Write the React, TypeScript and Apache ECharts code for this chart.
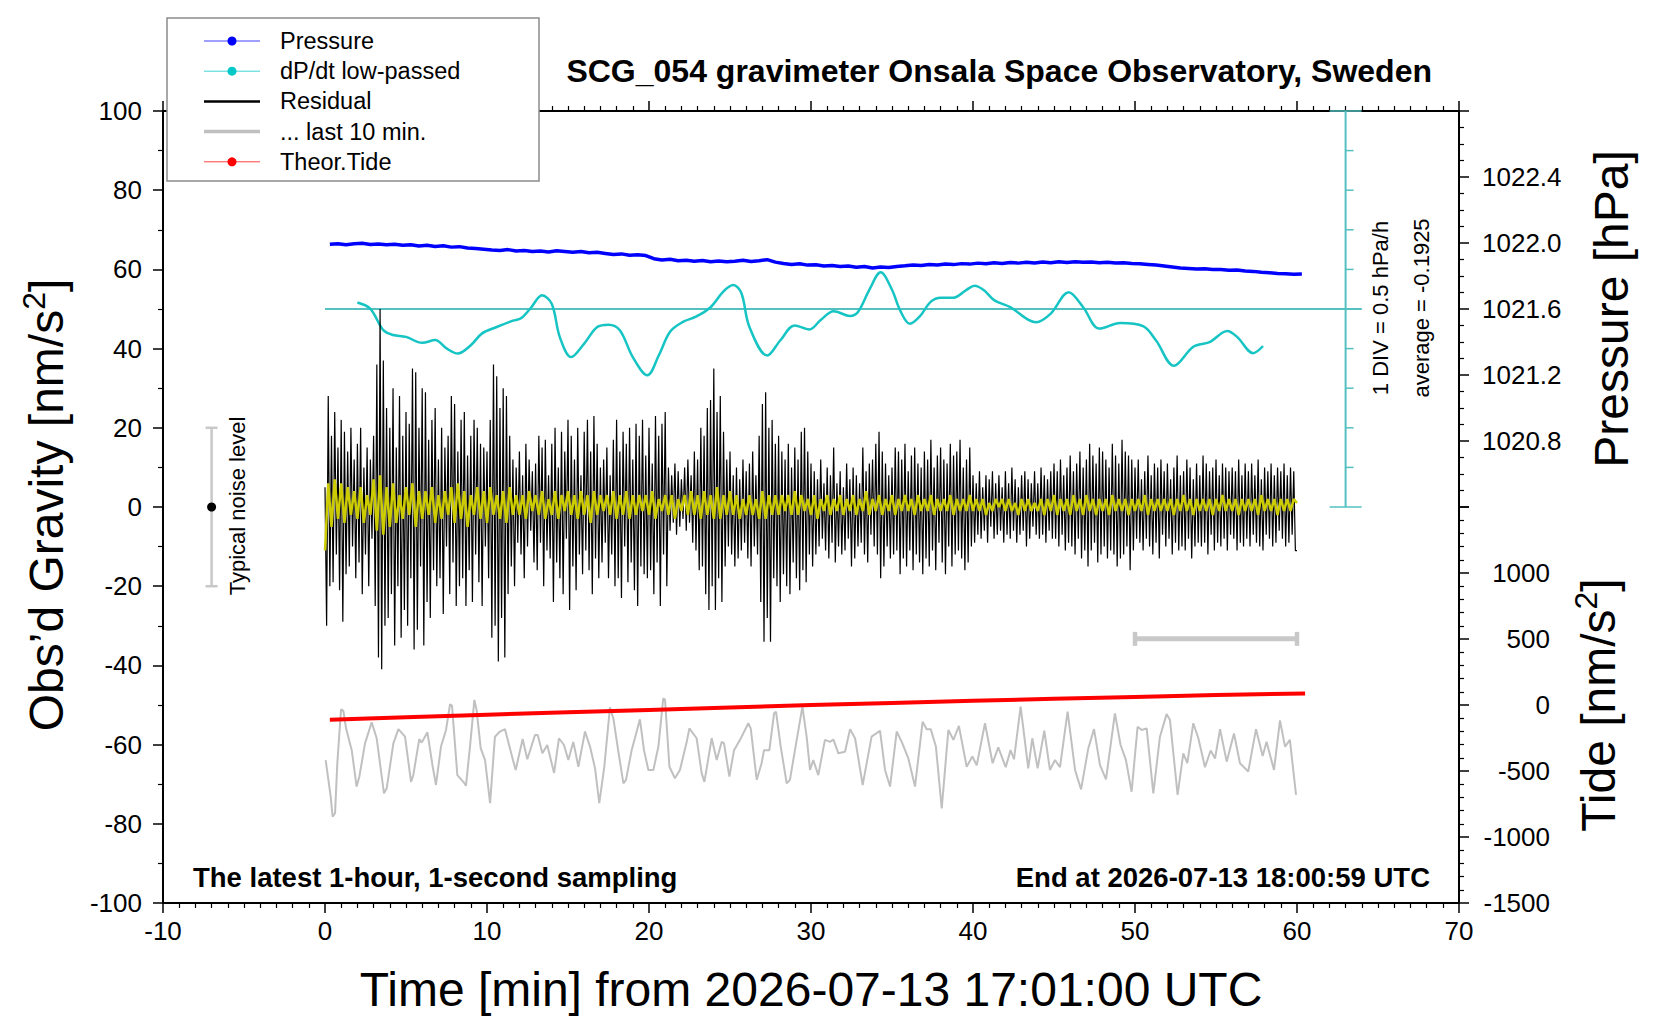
import React, { useEffect, useRef } from 'react';
import * as echarts from 'echarts';

const FONT = '"Liberation Sans", Arial, Helvetica, sans-serif';

// residual gravity [nm/s^2], one value every 0.1 min from t = 0
const RESIDUAL_STEP = 0.1;
const RESIDUAL = [
  5, -30, 28, -20, 18, -19, 24, -12, 15, -21,
  22, -29, 19, -17, 14, -15, 20, -10, 12, -18,
  16, -14, 20, -22, 10, -12, 15, -20, 12, -8,
  18, -25, 36, -38, 50, -41, 37, -30, 25, -28,
  20, -22, 30, -35, 15, -20, 28, -33, 18, -26,
  24, -30, 21, -18, 35, -36, 34, -31, 20, -15,
  30, -35, 29, -24, 17, -28, 22, -16, 25, -20,
  12, -18, 20, -27, 15, -10, 18, -22, 28, -14,
  26, -25, 14, -20, 22, -18, 24, -25, 13, -16,
  18, -24, 22, -12, 20, -19, 16, -25, 15, -10,
  14, -18, 22, -33, 36, -30, 33, -39, 25, -28,
  30, -38, 28, -22, 18, -15, 12, -20, 10, -9,
  14, -12, 8, -18, 16, -10, 12, -6, 9, -14,
  11, -16, 18, -9, 15, -20, 17, -11, 8, -13,
  16, -24, 20, -14, 10, -18, 19, -22, 14, -8,
  22, -26, 18, -15, 12, -21, 20, -12, 8, -17,
  19, -11, 22, -16, 14, -22, 23, -13, 16, -18,
  10, -14, 12, -9, 15, -18, 8, -12, 17, -20,
  22, -18, 14, -23, 19, -10, 16, -19, 20, -14,
  12, -21, 21, -25, 18, -15, 22, -17, 13, -18,
  20, -16, 11, -22, 23, -14, 18, -25, 21, -12,
  24, -20, 10, -6, 8, -4, 11, -7, 9, -5,
  7, -3, 10, -6, 12, -4, 8, -9, 14, -11,
  12, -16, 20, -15, 18, -22, 25, -26, 27, -20,
  35, -26, 24, -18, 28, -24, 19, -15, 12, -10,
  14, -12, 8, -15, 10, -13, 7, -11, 12, -9,
  9, -13, 11, -15, 14, -10, 8, -12, 18, -24,
  26, -34, 29, -28, 20, -34, 22, -18, 16, -20,
  18, -24, 14, -17, 12, -20, 16, -22, 10, -14,
  15, -18, 12, -21, 19, -16, 20, -19, 14, -12,
  11, -15, 9, -12, 7, -10, 12, -8, 6, -11,
  10, -13, 8, -9, 15, -14, 6, -10, 9, -12,
  5, -11, 11, -8, 7, -15, 10, -13, 8, -10,
  6, -9, 15, -12, 9, -14, 11, -7, 12, -10,
  16, -12, 19, -18, 14, -15, 11, -10, 8, -13,
  10, -12, 15, -11, 14, -17, 12, -13, 16, -15,
  9, -11, 13, -16, 15, -12, 11, -14, 10, -17,
  14, -13, 12, -15, 17, -11, 10, -16, 13, -9,
  15, -14, 12, -17, 11, -10, 16, -15, 13, -12,
  14, -11, 17, -13, 10, -16, 12, -14, 15, -10,
  8, -9, 6, -7, 9, -8, 5, -6, 8, -9,
  7, -5, 9, -8, 6, -7, 8, -6, 5, -9,
  9, -7, 6, -8, 10, -6, 7, -9, 5, -7,
  8, -6, 9, -10, 7, -8, 6, -5, 9, -7,
  6, -8, 10, -7, 8, -9, 7, -6, 9, -8,
  11, -8, 9, -10, 12, -7, 8, -11, 10, -9,
  13, -10, 9, -12, 11, -8, 14, -13, 10, -11,
  12, -15, 16, -11, 13, -9, 11, -14, 15, -12,
  14, -10, 12, -13, 10, -11, 16, -12, 13, -15,
  11, -13, 17, -12, 14, -10, 13, -16, 12, -11,
  10, -8, 12, -9, 7, -11, 9, -8, 13, -10,
  8, -12, 11, -9, 10, -13, 12, -7, 9, -10,
  11, -8, 7, -12, 10, -9, 13, -11, 8, -10,
  9, -11, 12, -8, 10, -13, 7, -10, 11, -9,
  8, -10, 13, -9, 11, -12, 9, -7, 10, -11,
  12, -9, 8, -10, 11, -8, 10, -11, 9, -7,
  10, -8, 9, -11, 12, -9, 8, -10, 11, -8,
  9, -10, 11, -7, 8, -9, 12, -10, 7, -11,
  10, -7, 9, -8, 11, -10, 8, -9, 10, -6,
  9, -8, 11, -10, 8, -9, 10, -7, 9, -11,
  -11,
];

// low-passed residual (yellow), one value every 0.2 min
const SMOOTH_STEP = 0.2;
const RESIDUAL_SMOOTH = [
  -11, 6, -5, 7, -3, 6, -4, 5, -2, 4,
  -3, 5, -4, 3, -2, 7, -6, 8, -7, 5,
  -5, 6, -4, 3, -3, 5, -2, 6, -5, 4,
  -3, 4, -2, 5, -4, 3, -3, 4, -2, 5,
  -4, 6, -3, 4, -5, 3, -2, 5, -3, 4,
  -4, 5, -2, 3, -3, 4, -4, 5, -2, 3,
  -2, 3, -3, 4, -1, 3, -2, 4, -3, 2,
  -2, 4, -3, 3, -1, 4, -2, 3, -3, 4,
  -2, 3, -4, 4, -2, 3, -1, 3, -2, 4,
  -3, 3, -2, 4, -3, 3, -2, 3, -1, 3,
  -2, 4, -3, 2, -1, 3, -2, 3, -3, 2,
  -1, 3, -2, 4, -2, 3, -3, 4, -2, 3,
  -3, 5, -3, 3, -2, 4, -2, 3, -3, 2,
  -2, 3, -2, 2, -3, 4, -3, 3, -2, 3,
  -2, 3, -1, 3, -2, 4, -2, 3, -1, 2,
  -2, 3, -3, 2, -1, 3, -2, 2, -1, 3,
  -2, 2, -1, 3, -2, 2, -1, 4, -2, 2,
  -1, 3, -2, 2, -1, 3, -2, 2, -1, 3,
  -1, 2, -2, 3, -1, 2, -1, 3, -2, 2,
  -1, 2, -1, 3, -2, 2, -1, 2, -1, 3,
  -1, 2, -1, 2, -2, 1, -1, 2, 0, 2,
  -1, 2, -1, 1, -2, 2, -1, 2, -1, 1,
  -1, 2, -2, 2, -1, 3, -2, 2, -1, 2,
  -2, 3, -1, 2, -2, 3, -1, 2, -2, 2,
  -1, 2, -2, 3, -1, 2, -1, 2, -2, 2,
  -1, 2, -1, 3, -2, 2, -1, 2, -1, 2,
  -1, 2, -2, 2, -1, 3, -1, 2, -2, 2,
  -1, 2, -1, 2, -2, 2, -1, 3, -1, 2,
  -1, 2, -2, 2, -1, 2, -1, 2, -2, 3,
  -1, 2, -1, 2, -2, 2, -1, 2, -1, 2,
  1,
];

// air pressure [hPa], every 0.5 min from t = 0.3
const PRESSURE_START = 0.3;
const PRESSURE_STEP = 0.5;
const PRESSURE = [
  1021.992, 1021.996, 1021.990, 1021.995, 1021.998, 1021.991, 1021.994, 1021.989, 1021.993, 1021.987,
  1021.990, 1021.982, 1021.986, 1021.979, 1021.983, 1021.975, 1021.978, 1021.970, 1021.966, 1021.962,
  1021.958, 1021.955, 1021.960, 1021.951, 1021.954, 1021.948, 1021.952, 1021.946, 1021.953, 1021.949,
  1021.944, 1021.948, 1021.941, 1021.944, 1021.937, 1021.930, 1021.934, 1021.926, 1021.929, 1021.924,
  1021.905, 1021.897, 1021.901, 1021.893, 1021.896, 1021.889, 1021.894, 1021.887, 1021.891, 1021.886,
  1021.890, 1021.895, 1021.888, 1021.893, 1021.899, 1021.884, 1021.876, 1021.870, 1021.874, 1021.866,
  1021.868, 1021.861, 1021.864, 1021.857, 1021.860, 1021.853, 1021.857, 1021.849, 1021.855, 1021.851,
  1021.858, 1021.862, 1021.867, 1021.864, 1021.870, 1021.867, 1021.873, 1021.869, 1021.875, 1021.872,
  1021.878, 1021.874, 1021.880, 1021.876, 1021.882, 1021.878, 1021.884, 1021.879, 1021.885, 1021.881,
  1021.886, 1021.882, 1021.887, 1021.883, 1021.885, 1021.880, 1021.884, 1021.879, 1021.881, 1021.876,
  1021.874, 1021.870, 1021.866, 1021.861, 1021.855, 1021.849, 1021.846, 1021.842, 1021.844, 1021.839,
  1021.840, 1021.835, 1021.836, 1021.830, 1021.828, 1021.823, 1021.820, 1021.815, 1021.814, 1021.810,
  1021.812,
];

// low-passed pressure rate [hPa/h]
const DPDT_TIME = [
  2.0, 2.8, 3.6, 4.2, 5.0, 6.0, 6.8, 7.5, 8.2, 9.0, 9.7, 10.6, 11.6, 12.1, 12.7, 13.4, 14.0, 14.5,
  15.2, 16.0, 16.8, 17.5, 18.2, 19.0, 19.9, 20.6, 21.3, 22.1, 22.9, 23.8, 24.6, 25.2, 25.7, 26.2,
  27.3, 28.1, 29.0, 29.9, 30.6, 31.4, 32.4, 32.9, 33.6, 34.3, 35.0, 35.5, 36.1, 36.7, 37.4, 38.0,
  38.8, 39.6, 40.1, 40.7, 41.3, 42.3, 43.9, 44.8, 45.9, 46.8, 47.8, 49.1, 50.5, 51.3, 52.4, 53.6,
  54.6, 55.7, 56.3, 57.3, 57.9,
];
const DPDT = [
  -0.11, -0.19, -0.46, -0.52, -0.545, -0.62, -0.585, -0.69, -0.755, -0.65, -0.50, -0.42, -0.34, -0.31, -0.18, -0.02, -0.13, -0.55,
  -0.80, -0.63, -0.42, -0.39, -0.46, -0.80, -1.03, -0.78, -0.48, -0.355, -0.29, -0.17, 0.03, 0.11, 0.01, -0.42,
  -0.78, -0.59, -0.40, -0.45, -0.33, -0.22, -0.28, -0.23, 0.05, 0.27, 0.05, -0.21, -0.38, -0.29, -0.10, -0.05,
  -0.05, 0.05, 0.10, 0.04, -0.08, -0.17, -0.36, -0.25, 0.02, -0.17, -0.44, -0.37, -0.41, -0.59, -0.91, -0.67,
  -0.61, -0.47, -0.545, -0.75, -0.66,
];
const DPDT_AVERAGE = -0.1925;
const DPDT_AVERAGE_SPAN = [0, 64];
const DPDT_SCALE_X = 63;
// 1 DIV = 0.5 hPa/h around the average
const DPDT_TICKS = [-2.6925, -2.1925, -1.6925, -1.1925, -0.6925, -0.1925, 0.3075, 0.8075, 1.3075, 1.8075, 2.3075];
const DPDT_AXIS_MIN = -7.6925;
const DPDT_AXIS_MAX = 2.3075;

// last 10 minutes of residual, stretched over the hour (offset)
const LAST10_TIME = [
  0.04, 0.35, 0.47, 0.62, 0.76, 0.99, 1.13, 1.30, 1.65, 1.95, 2.12, 2.47, 2.88, 3.19, 3.64, 3.81,
  4.22, 4.53, 4.94, 5.31, 5.45, 5.82, 5.97, 6.32, 6.65, 6.85, 7.16, 7.47, 7.72, 7.84, 8.17, 8.54,
  8.70, 8.95, 9.22, 9.36, 9.61, 9.88, 10.19, 10.49, 10.80, 11.11, 11.63, 11.77, 12.20, 12.49, 12.96,
  13.13, 13.42, 13.72, 14.14, 14.44, 14.75, 15.02, 15.33, 15.64, 16.05, 16.36, 16.67, 16.93, 17.24,
  17.59, 17.80, 18.11, 18.42, 18.58, 18.93, 19.44, 19.69, 19.96, 20.27, 20.58, 20.88, 20.99, 21.26,
  21.60, 21.91, 22.33, 22.49, 22.94, 23.25, 23.42, 23.87, 24.18, 24.49, 24.63, 24.96, 25.25, 25.62,
  26.13, 26.28, 26.65, 26.95, 27.10, 27.43, 27.72, 27.84, 28.13, 28.50, 28.70, 29.01, 29.47,
  29.73, 29.94, 30.14, 30.45, 30.86, 31.17, 31.38, 31.69, 32.10, 32.41, 32.72, 33.19, 33.74, 34.26,
  34.57, 34.88, 35.29, 35.60, 36.01, 36.42, 36.89, 37.14, 37.39, 37.71, 38.07, 38.48, 38.79, 39.13,
  39.61, 39.96, 40.23, 40.74, 41.21, 41.56, 42.02, 42.32, 42.53, 42.94, 43.41, 43.66, 43.99, 44.40,
  44.75, 45.06, 45.37, 45.84, 46.30, 46.67, 47.12, 47.47, 47.84, 48.21, 48.76, 49.11, 49.44, 49.79,
  50.16, 50.41, 50.72, 51.13, 51.54, 51.95, 52.16, 52.63, 52.98, 53.23, 53.60, 53.91, 54.32, 54.67,
  54.94, 55.25, 55.66, 56.11, 56.48, 56.99, 57.47, 57.88, 58.12, 58.58, 58.95, 59.26, 59.56, 59.94,
];
const LAST10 = [
  -63.9, -73.1, -78.2, -77.3, -64.7, -51.1, -51.4, -55.9, -61.4, -70.6, -68.1, -59.7, -54.4, -58.4, -72.3, -71.0,
  -59.7, -56.1, -58.0, -69.4, -67.7, -58.6, -59.5, -56.9, -65.6, -70.2, -60.5, -56.3, -49.8, -50.2, -67.7, -69.4,
  -70.4, -60.5, -48.7, -51.3, -60.9, -63.9, -74.8, -58.0, -56.7, -56.1, -64.3, -66.4, -58.6, -63.7, -57.6,
  -57.6, -62.2, -60.1, -67.2, -58.4, -60.1, -63.9, -59.3, -65.6, -56.7, -60.5, -66.0, -74.8, -65.6,
  -50.6, -53.4, -61.8, -69.8, -68.9, -61.4, -53.6, -61.4, -66.4, -66.4, -60.5, -48.3, -48.7, -65.6,
  -68.5, -66.4, -59.3, -55.9, -58.4, -67.2, -69.4, -58.4, -63.9, -59.3, -59.7, -68.1, -61.4, -58.8,
  -54.6, -55.9, -68.9, -64.7, -61.4, -61.4, -52.1, -51.7, -60.5, -69.8, -68.9, -61.4, -50.4,
  -58.0, -66.4, -63.9, -67.7, -58.8, -59.3, -58.7, -62.2, -61.8, -56.1, -58.4, -70.2, -58.0, -56.5,
  -66.4, -70.6, -56.7, -59.3, -63.5, -70.6, -54.2, -56.1, -56.1, -60.5, -76.1, -56.3, -58.8, -55.3,
  -65.6, -63.0, -65.2, -54.6, -64.7, -60.7, -65.7, -61.4, -63.7, -50.4, -66.0, -58.4, -66.0, -56.5,
  -66.4, -63.9, -65.7, -51.7, -66.4, -71.3, -60.9, -56.1, -65.2, -68.8, -52.1, -60.1, -63.9, -71.9,
  -55.5, -56.3, -55.9, -72.3, -58.0, -52.3, -53.8, -72.7, -62.2, -64.7, -54.6, -58.4, -65.7, -61.5,
  -63.5, -56.1, -64.3, -57.2, -64.7, -66.8, -56.1, -62.9, -59.3, -66.4, -53.9, -60.5, -58.8, -72.7,
];
const LAST10_SPAN = [[50, 60, -33.3]];

// theoretical tide [nm/s^2]
const TIDE_TIME = [0.3, 5, 10, 15, 20, 25, 30, 35, 40, 45, 50, 55, 60.5];
const TIDE = [-111, -92, -73, -55, -37, -18, 0, 16, 32, 47, 61, 75, 88];

// typical noise level: [time, low, high, centre]
const NOISE = [[-7, -20, 20, 0]];

const LEGEND_ITEMS = [
  { name: 'Pressure', color: '#0000ff', width: 1, dot: true },
  { name: 'dP/dt low-passed', color: '#00c8c8', width: 1, dot: true },
  { name: 'Residual', color: '#000000', width: 2.5, dot: false },
  { name: '... last 10 min.', color: '#c0c0c0', width: 3.5, dot: false },
  { name: 'Theor.Tide', color: '#ff0000', width: 1, dot: true },
];

const TEAL = '#55c0c0';
const LIGHT_GREY = '#c8c8c8';

const axisLineStyle = { onZero: false, lineStyle: { color: '#000', width: 2 } };
const tickStyle = { length: 10, lineStyle: { color: '#000', width: 1.5 } };
const minorStyle = (n: number) => ({ show: true, splitNumber: n, length: 5, lineStyle: { color: '#000', width: 1.2 } });
const labelStyle = { color: '#000', fontSize: 26, fontFamily: FONT };

const App: React.FC = () => {
  const chartRef = useRef<HTMLDivElement>(null);

  useEffect(() => {
    if (!chartRef.current) return;
    const chart = echarts.init(chartRef.current, undefined, { renderer: 'svg' });

    const residualData = RESIDUAL.map((v, i) => [i * RESIDUAL_STEP, v]);
    const smoothData = RESIDUAL_SMOOTH.map((v, i) => [i * SMOOTH_STEP, v]);
    const pressureData = PRESSURE.map((v, i) => [PRESSURE_START + i * PRESSURE_STEP, v]);
    const dpdtData = DPDT.map((v, i) => [DPDT_TIME[i], v]);
    const last10Data = LAST10.map((v, i) => [LAST10_TIME[i], v]);
    const tideData = TIDE.map((v, i) => [TIDE_TIME[i], v]);

    // legend box drawn by hand
    const legendRows = LEGEND_ITEMS.flatMap((item, i) => {
      const y = 41 + i * 30.2;
      const els: any[] = [
        { type: 'line', z: 101, shape: { x1: 204, y1: y, x2: 260, y2: y }, style: { stroke: item.color, lineWidth: item.width, opacity: item.dot ? 0.75 : 1 } },
        { type: 'text', z: 101, x: 280, y, style: { text: item.name, fontSize: 23.5, fontFamily: FONT, fill: '#000', align: 'left', verticalAlign: 'middle' } },
      ];
      if (item.dot) els.push({ type: 'circle', z: 102, shape: { cx: 232, cy: y, r: 4.5 }, style: { fill: item.color } });
      return els;
    });

    const option: any = {
      animation: false,
      backgroundColor: '#fff',
      grid: [
        { left: 163, top: 111, width: 1296, height: 792 },
        { left: 163, top: 111, width: 1296, height: 396 },
        { left: 163, top: 507, width: 1296, height: 396 },
      ],
      xAxis: [
        {
          gridIndex: 0, type: 'value', min: -10, max: 70, interval: 10, position: 'bottom',
          axisLine: axisLineStyle, axisTick: tickStyle, minorTick: minorStyle(10), splitLine: { show: false },
          axisLabel: { ...labelStyle, margin: 15 },
        },
        {
          gridIndex: 0, type: 'value', min: -10, max: 70, interval: 10, position: 'top',
          axisLine: axisLineStyle, axisTick: tickStyle, minorTick: minorStyle(10), splitLine: { show: false },
          axisLabel: { show: false },
        },
        { gridIndex: 1, type: 'value', min: -10, max: 70, show: false },
        { gridIndex: 2, type: 'value', min: -10, max: 70, show: false },
      ],
      yAxis: [
        {
          gridIndex: 0, type: 'value', min: -100, max: 100, interval: 20, position: 'left',
          axisLine: axisLineStyle, axisTick: tickStyle, minorTick: minorStyle(2), splitLine: { show: false },
          axisLabel: { ...labelStyle, margin: 21 },
        },
        { gridIndex: 0, type: 'value', min: DPDT_AXIS_MIN, max: DPDT_AXIS_MAX, show: false },
        {
          gridIndex: 1, type: 'value', min: 1020.4, max: 1022.8, interval: 0.4, position: 'right',
          axisLine: axisLineStyle, axisTick: tickStyle, minorTick: minorStyle(4), splitLine: { show: false },
          axisLabel: { ...labelStyle, margin: 23, showMinLabel: false, showMaxLabel: false, formatter: (v: number) => v.toFixed(1) },
        },
        {
          gridIndex: 2, type: 'value', min: -1500, max: 1500, interval: 500, position: 'right',
          axisLine: axisLineStyle, axisTick: tickStyle, minorTick: minorStyle(5), splitLine: { show: false },
          axisLabel: { ...labelStyle, align: 'right', margin: 91, showMaxLabel: false, formatter: (v: number) => String(v) },
        },
      ],
      series: [
        {
          name: 'dP/dt average', type: 'line', xAxisIndex: 0, yAxisIndex: 1, silent: true, symbol: 'none',
          data: DPDT_AVERAGE_SPAN.map((t) => [t, DPDT_AVERAGE]),
          lineStyle: { color: TEAL, width: 2 },
        },
        {
          name: 'dP/dt scale', type: 'line', xAxisIndex: 0, yAxisIndex: 1, silent: true, symbol: 'none',
          data: [[DPDT_SCALE_X, DPDT_TICKS[0]], [DPDT_SCALE_X, DPDT_TICKS[DPDT_TICKS.length - 1]]],
          lineStyle: { color: TEAL, width: 2 },
        },
        {
          name: 'dP/dt ticks', type: 'custom', xAxisIndex: 0, yAxisIndex: 1, silent: true,
          data: DPDT_TICKS.map((v) => [DPDT_SCALE_X, v]),
          encode: { x: 0, y: 1 },
          renderItem: (params: any, api: any) => {
            const p = api.coord([api.value(0), api.value(1)]);
            const end = params.dataIndex === 0 || params.dataIndex === DPDT_TICKS.length - 1;
            return {
              type: 'line',
              shape: { x1: end ? p[0] - 16 : p[0], y1: p[1], x2: end ? p[0] + 16 : p[0] + 8, y2: p[1] },
              style: { stroke: TEAL, lineWidth: 1.5 },
            };
          },
        },
        {
          name: 'dP/dt low-passed', type: 'line', xAxisIndex: 0, yAxisIndex: 1, symbol: 'none', smooth: 0.35,
          data: dpdtData, lineStyle: { color: '#17c4c4', width: 2.5 },
        },
        {
          name: 'Residual', type: 'line', xAxisIndex: 0, yAxisIndex: 0, symbol: 'none',
          data: residualData, lineStyle: { color: '#000', width: 1.2 },
        },
        {
          name: 'Residual low-passed', type: 'line', xAxisIndex: 0, yAxisIndex: 0, symbol: 'none',
          data: smoothData, lineStyle: { color: '#cccc00', width: 2.5 },
        },
        {
          name: '... last 10 min.', type: 'line', xAxisIndex: 0, yAxisIndex: 0, symbol: 'none',
          data: last10Data, lineStyle: { color: '#c0c0c0', width: 2 },
        },
        {
          name: 'Typical noise level', type: 'custom', xAxisIndex: 0, yAxisIndex: 0, silent: true,
          data: NOISE, encode: { x: 0, y: [1, 2] },
          renderItem: (_p: any, api: any) => {
            const x = api.value(0);
            const lo = api.coord([x, api.value(1)]);
            const hi = api.coord([x, api.value(2)]);
            const mid = api.coord([x, api.value(3)]);
            const s = { stroke: LIGHT_GREY, lineWidth: 2.5 };
            return {
              type: 'group',
              children: [
                { type: 'line', shape: { x1: lo[0], y1: lo[1], x2: hi[0], y2: hi[1] }, style: s },
                { type: 'line', shape: { x1: lo[0] - 6, y1: lo[1], x2: lo[0] + 6, y2: lo[1] }, style: s },
                { type: 'line', shape: { x1: hi[0] - 6, y1: hi[1], x2: hi[0] + 6, y2: hi[1] }, style: s },
                { type: 'circle', shape: { cx: mid[0], cy: mid[1], r: 4.5 }, style: { fill: '#000' } },
              ],
            };
          },
        },
        {
          name: 'last 10 min span', type: 'custom', xAxisIndex: 0, yAxisIndex: 0, silent: true,
          data: LAST10_SPAN, encode: { x: [0, 1], y: 2 },
          renderItem: (_p: any, api: any) => {
            const a = api.coord([api.value(0), api.value(2)]);
            const b = api.coord([api.value(1), api.value(2)]);
            return {
              type: 'group',
              children: [
                { type: 'line', shape: { x1: a[0], y1: a[1], x2: b[0], y2: b[1] }, style: { stroke: LIGHT_GREY, lineWidth: 5 } },
                { type: 'line', shape: { x1: a[0], y1: a[1] - 7, x2: a[0], y2: a[1] + 7 }, style: { stroke: LIGHT_GREY, lineWidth: 4.5 } },
                { type: 'line', shape: { x1: b[0], y1: b[1] - 7, x2: b[0], y2: b[1] + 7 }, style: { stroke: LIGHT_GREY, lineWidth: 4.5 } },
              ],
            };
          },
        },
        {
          name: 'Pressure', type: 'line', xAxisIndex: 2, yAxisIndex: 2, symbol: 'none',
          data: pressureData, lineStyle: { color: '#0000ff', width: 3.5 },
        },
        {
          name: 'Theor.Tide', type: 'line', xAxisIndex: 3, yAxisIndex: 3, symbol: 'none',
          data: tideData, lineStyle: { color: '#ff0000', width: 4 },
        },
      ],
      graphic: [
        {
          type: 'text', x: 1432, y: 71,
          style: { text: 'SCG_054 gravimeter Onsala Space Observatory, Sweden', fontSize: 32, fontWeight: 'bold', fontFamily: FONT, fill: '#000', align: 'right', verticalAlign: 'middle' },
        },
        {
          type: 'text', x: 193, y: 877,
          style: { text: 'The latest 1-hour, 1-second sampling', fontSize: 27.5, fontWeight: 'bold', fontFamily: FONT, fill: '#000', align: 'left', verticalAlign: 'middle' },
        },
        {
          type: 'text', x: 1430, y: 877,
          style: { text: 'End at 2026-07-13 18:00:59 UTC', fontSize: 27.5, fontWeight: 'bold', fontFamily: FONT, fill: '#000', align: 'right', verticalAlign: 'middle' },
        },
        {
          type: 'text', x: 811, y: 989,
          style: { text: 'Time [min] from 2026-07-13 17:01:00 UTC', fontSize: 48, fontFamily: FONT, fill: '#000', align: 'center', verticalAlign: 'middle' },
        },
        {
          type: 'text', x: 46, y: 505, rotation: Math.PI / 2,
          style: {
            text: '{a|Obs’d Gravity [nm/s}{b|2}{a|]}', fontFamily: FONT, fill: '#000', align: 'center', verticalAlign: 'middle',
            rich: { a: { fontSize: 48, lineHeight: 56, fontFamily: FONT }, b: { fontSize: 32, lineHeight: 32, verticalAlign: 'top', fontFamily: FONT } },
          },
        },
        {
          type: 'text', x: 1611, y: 309, rotation: Math.PI / 2,
          style: { text: 'Pressure [hPa]', fontSize: 48, fontFamily: FONT, fill: '#000', align: 'center', verticalAlign: 'middle' },
        },
        {
          type: 'text', x: 1598, y: 705, rotation: Math.PI / 2,
          style: {
            text: '{a|Tide [nm/s}{b|2}{a|]}', fontFamily: FONT, fill: '#000', align: 'center', verticalAlign: 'middle',
            rich: { a: { fontSize: 48, lineHeight: 56, fontFamily: FONT }, b: { fontSize: 32, lineHeight: 32, verticalAlign: 'top', fontFamily: FONT } },
          },
        },
        {
          type: 'text', x: 1380, y: 308, rotation: Math.PI / 2,
          style: { text: '1 DIV = 0.5 hPa/h', fontSize: 22, fontFamily: FONT, fill: '#000', align: 'center', verticalAlign: 'middle' },
        },
        {
          type: 'text', x: 1421, y: 308, rotation: Math.PI / 2,
          style: { text: 'average = -0.1925', fontSize: 22, fontFamily: FONT, fill: '#000', align: 'center', verticalAlign: 'middle' },
        },
        {
          type: 'text', x: 237, y: 506, rotation: Math.PI / 2,
          style: { text: 'Typical noise level', fontSize: 22, fontFamily: FONT, fill: '#000', align: 'center', verticalAlign: 'middle' },
        },
        {
          type: 'rect', z: 100, shape: { x: 167, y: 18, width: 372, height: 163 },
          style: { fill: '#fff', stroke: '#8c8c8c', lineWidth: 1.5 },
        },
        ...legendRows,
      ],
    };

    chart.setOption(option);

    const handleResize = () => chart.resize();
    window.addEventListener('resize', handleResize);
    return () => {
      window.removeEventListener('resize', handleResize);
      chart.dispose();
    };
  }, []);

  return (
    <div
      ref={chartRef}
      style={{ position: 'fixed', left: 0, top: 0, width: 1660, height: 1020, background: '#fff' }}
    />
  );
};

export default App;
